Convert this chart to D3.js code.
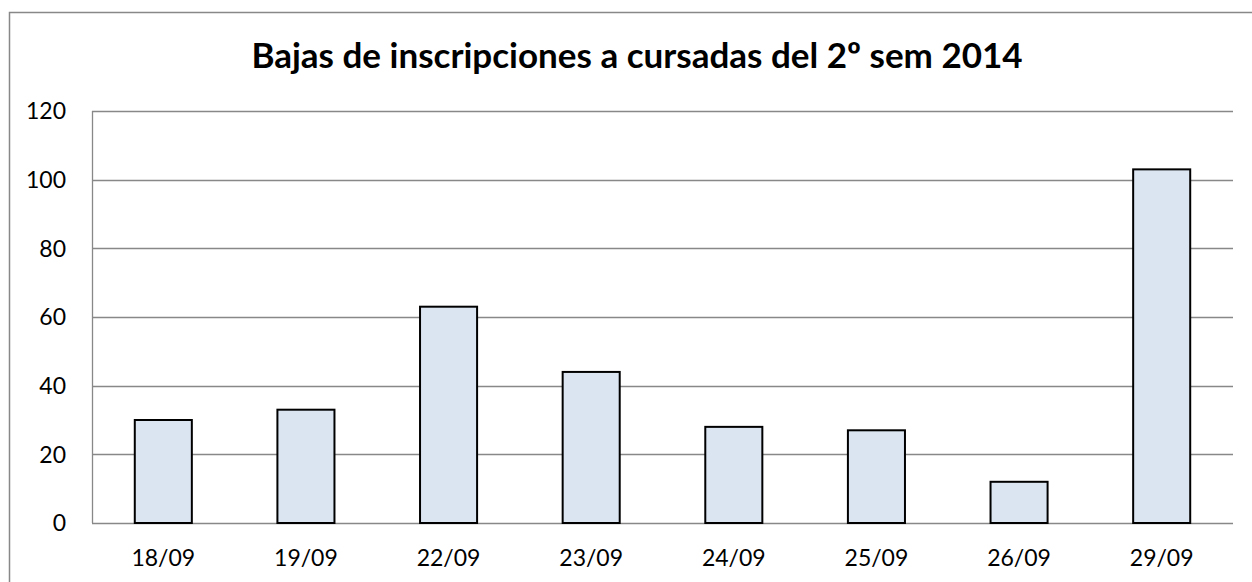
<!DOCTYPE html>
<html>
<head>
<title>Bajas de inscripciones</title>
<style>
	body { margin: 0; background: #fff; }
	svg text { font-family: Lato, "Open Sans", sans-serif; fill: #000; }
</style>
</head>
<body>
<div id="chart"></div>
<script src="https://cdn.jsdelivr.net/npm/d3@7/dist/d3.min.js" charset="utf-8"></script>
<script>
	var categories = ['18/09', '19/09', '22/09', '23/09', '24/09', '25/09', '26/09', '29/09'];
	var values = [30, 33, 63, 44, 28, 27, 12, 103];
	var yTicks = [0, 20, 40, 60, 80, 100, 120];
	var title = 'Bajas de inscripciones a cursadas del 2º sem 2014';

	var width = 1252,
		height = 582,
		margin = {top: 111, right: 19, bottom: 59, left: 92};

	var svg = d3.select('#chart').append('svg')
		.attr('width', width)
		.attr('height', height);

	// outer chart frame (runs off the right and bottom edges)
	svg.append('rect')
		.attr('x', 9.5)
		.attr('y', 12.5)
		.attr('width', 1300)
		.attr('height', 650)
		.attr('fill', 'none')
		.attr('stroke', '#888')
		.attr('stroke-width', 1.5);

	svg.append('text')
		.attr('x', 637)
		.attr('y', 68)
		.attr('text-anchor', 'middle')
		.style('font-size', '35px')
		.style('font-weight', 'bold')
		.text(title);

	var x = d3.scaleBand()
		.domain(categories)
		.range([margin.left, width - margin.right])
		.paddingInner(0.6)
		.paddingOuter(0.3);

	var y = d3.scaleLinear()
		.domain([0, 120])
		.range([height - margin.bottom, margin.top]);

	var g = svg.append('g');

	// gridlines
	g.selectAll('line.grid')
		.data(yTicks)
		.enter()
		.append('line')
		.attr('class', 'grid')
		.attr('x1', margin.left)
		.attr('x2', width - margin.right)
		.attr('y1', function(d) { return Math.round(y(d)) + 0.5; })
		.attr('y2', function(d) { return Math.round(y(d)) + 0.5; })
		.attr('stroke', '#888')
		.attr('stroke-width', 1.3);

	// left axis line
	g.append('line')
		.attr('x1', margin.left + 0.5)
		.attr('x2', margin.left + 0.5)
		.attr('y1', y(120))
		.attr('y2', y(0))
		.attr('stroke', '#888')
		.attr('stroke-width', 1.3);

	// y tick labels
	g.selectAll('text.ylab')
		.data(yTicks)
		.enter()
		.append('text')
		.attr('class', 'ylab')
		.attr('x', 66)
		.attr('y', function(d) { return y(d); })
		.attr('dy', '0.36em')
		.attr('text-anchor', 'end')
		.style('font-size', '23px')
		.text(function(d) { return d; });

	// bars
	g.selectAll('rect.bar')
		.data(values)
		.enter()
		.append('rect')
		.attr('class', 'bar')
		.attr('x', function(d, i) { return x(categories[i]); })
		.attr('y', function(d) { return y(d); })
		.attr('width', x.bandwidth())
		.attr('height', function(d) { return y(0) - y(d); })
		.attr('fill', '#dbe5f1')
		.attr('stroke', '#000')
		.attr('stroke-width', 2);

	// x labels
	g.selectAll('text.xlab')
		.data(categories)
		.enter()
		.append('text')
		.attr('class', 'xlab')
		.attr('x', function(d) { return x(d) + x.bandwidth() / 2; })
		.attr('y', 566)
		.attr('text-anchor', 'middle')
		.style('font-size', '23px')
		.text(function(d) { return d; });
</script>
</body>
</html>
